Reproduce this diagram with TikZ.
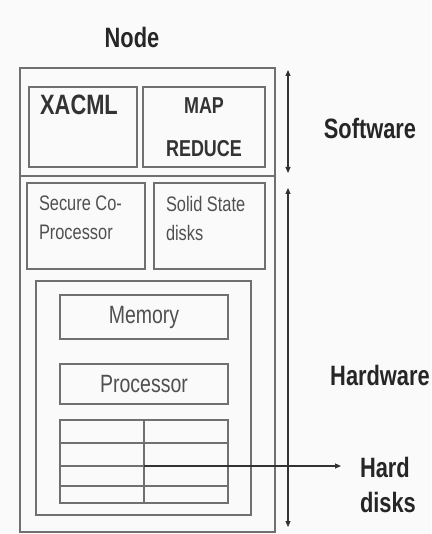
\documentclass[tikz,border=0pt]{standalone}
\usepackage{fontspec}
\setmainfont{Liberation Sans}
\newfontfamily\narrowsans[FakeStretch=0.78]{Liberation Sans}
\usetikzlibrary{positioning,arrows.meta}

\definecolor{boxgray}{HTML}{707070}
\definecolor{txtgray}{HTML}{505050}
\definecolor{bggray}{HTML}{FAFAFA}

\tikzset{
  box/.style={draw=boxgray, line width=1.5pt, rectangle, inner sep=0pt, outer sep=0pt},
  head/.style={font=\narrowsans\bfseries\fontsize{28}{35}\selectfont, text=black!85, inner sep=0pt, outer sep=0pt},
  boldtxt/.style={font=\narrowsans\bfseries\fontsize{23}{43}\selectfont, text=black!80, inner sep=0pt, outer sep=0pt, align=center},
  smalltxt/.style={font=\narrowsans\fontsize{21}{29}\selectfont, text=txtgray, inner sep=0pt, outer sep=0pt, align=left},
  midtxt/.style={font=\narrowsans\fontsize{25}{28}\selectfont, text=txtgray, inner sep=0pt, outer sep=0pt},
  dimarrow/.style={draw=black!80, line width=1.1pt, {Triangle[length=6pt,width=5pt]}-{Triangle[length=6pt,width=5pt]}},
  onearrow/.style={draw=black!80, line width=1.1pt, -{Triangle[length=6pt,width=5pt]}}
}

\begin{document}
\begin{tikzpicture}[x=1pt, y=-1pt]

    \fill[bggray] (0,0) rectangle (431,534);
    \useasboundingbox (0,0) rectangle (431,534);

    % Title
    \node[head, anchor=base] (title) at (132,48) {Node};

    % Software part
    \node[box, minimum width=255pt, minimum height=108pt] (swbox) at (147.5,122) {};
    \node[box, minimum width=108pt, minimum height=80pt] (xacml) at (83,127) {};
    \node[box, minimum width=122pt, minimum height=80pt] (mapred) at (204,127) {};
    \node[boldtxt, font=\narrowsans\bfseries\fontsize{28}{30}\selectfont, below=8pt of xacml.north, xshift=-4pt] (xacmltxt) {XACML};
    \node[boldtxt] (mapredtxt) at (mapred) {MAP\\REDUCE};

    % Hardware part
    \node[box, minimum width=255pt, minimum height=356pt] (hwbox) at (147.5,354) {};
    \node[box, minimum width=118pt, minimum height=86pt] (secure) at (86,226) {};
    \node[box, minimum width=111pt, minimum height=86pt] (ssd) at (209.5,226) {};
    \node[smalltxt, below right=13pt and 12pt of secure.north west] (securetxt) {Secure Co-\\Processor};
    \node[smalltxt, below right=13pt and 12pt of ssd.north west] (ssdtxt) {Solid State\\disks};

    % Board with memory, processor and disks
    \node[box, minimum width=215pt, minimum height=234pt] (board) at (143.5,398) {};
    \node[box, midtxt, minimum width=168pt, minimum height=44pt] (memory) at (144,317) {Memory};
    \node[box, midtxt, minimum width=168pt, minimum height=40pt] (cpu) at (144,384) {Processor};
    \node[box, minimum width=168pt, minimum height=83pt] (disks) at (144,461.5) {};

    % Disk grid
    \draw[box] ([yshift=-23pt]disks.north west) -- ([yshift=-23pt]disks.north east);
    \draw[box] ([yshift=-46pt]disks.north west) -- ([yshift=-46pt]disks.north east);
    \draw[box] ([yshift=-66pt]disks.north west) -- ([yshift=-66pt]disks.north east);
    \draw[box] (disks.north) -- (disks.south);

    % Side labels
    \node[head, anchor=base] (swlabel) at (370,139) {Software};
    \node[head, anchor=base] (hwlabel) at (380,385) {Hardware};
    \node[head, align=left, anchor=north west] (hdlabel) at (360,457) {Hard\\disks};

    % Arrows
    \coordinate (swtop) at (288,70);
    \coordinate (swbot) at (288,173);
    \coordinate (hwtop) at (288,188);
    \coordinate (hwbot) at (288,527);
    \coordinate (hdstart) at (144,466);
    \coordinate (hdtip) at (341,466);

    \draw[dimarrow] (swtop) -- (swbot);
    \draw[dimarrow] (hwtop) -- (hwbot);
    \draw[onearrow] (hdstart) -- (hdtip);

\end{tikzpicture}
\end{document}
